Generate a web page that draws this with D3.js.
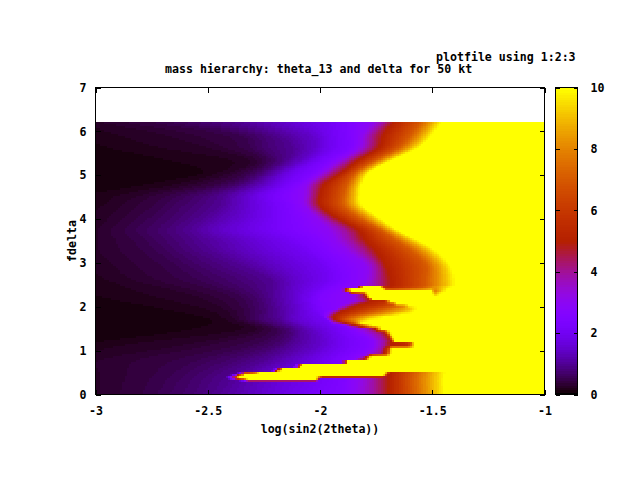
<!DOCTYPE html>
<html>
<head>
<meta charset="utf-8">
<script src="https://cdn.jsdelivr.net/npm/d3@7"></script>
<style>
html,body{margin:0;padding:0;background:#fff;}
text{font-family:"DejaVu Sans Mono","Liberation Mono",monospace;font-weight:bold;font-size:11.6px;fill:#000;}
</style>
</head>
<body>
<svg id="chart" width="640" height="480"></svg>
<script>
const xTicks = [-3,-2.5,-2,-1.5,-1];
const yTicks = [0,1,2,3,4,5,6,7];
const cbTicks = [0,2,4,6,8,10];
const titleText = "mass hierarchy: theta_13 and delta for 50 kt";
const keyText = "plotfile using 1:2:3";
const xLabelText = "log(sin2(2theta))";
const yLabelText = "fdelta";

// Smooth background: for each fdelta row, the log(sin2(2theta)) at which each level is reached
const bgLevels = [.1,.2,.3,.5,.75,1,1.5,2,2.5,3,4,5,7,10];
const bgDelta = [6.22,5.925,5.63,5.35,5.08,4.8,4.55,4.32,4.05,3.75,3.52,3.29,2.95,2.61,2.26,1.92,1.69,1.46,1.12,.78,.44,0];
const bgCross = [
 [-3.25,-3.116,-3,-2.714,-2.513,-2.357,-2.156,-1.973,-1.866,-1.768,-1.71,-1.674,-1.554,-1.455],
 [-3.205,-3,-2.714,-2.379,-2.277,-2.188,-2.036,-1.955,-1.866,-1.812,-1.768,-1.719,-1.598,-1.5],
 [-3.116,-2.804,-2.513,-2.321,-2.241,-2.125,-2.022,-1.955,-1.866,-1.83,-1.786,-1.741,-1.652,-1.563],
 [-2.982,-2.446,-2.313,-2.246,-2.192,-2.147,-2.076,-2.022,-1.955,-1.911,-1.871,-1.83,-1.754,-1.679],
 [-2.58,-2.469,-2.393,-2.313,-2.259,-2.223,-2.165,-2.112,-2.022,-1.987,-1.946,-1.897,-1.839,-1.777],
 [-2.893,-2.67,-2.58,-2.438,-2.357,-2.313,-2.232,-2.165,-2.103,-2.058,-2.022,-1.978,-1.879,-1.812],
 [-3.161,-2.938,-2.804,-2.647,-2.513,-2.424,-2.326,-2.246,-2.156,-2.071,-2.036,-2,-1.897,-1.821],
 [-3.25,-3,-2.893,-2.714,-2.58,-2.446,-2.335,-2.232,-2.134,-2.071,-2.036,-2,-1.897,-1.812],
 [-3.339,-3.094,-2.946,-2.781,-2.634,-2.513,-2.357,-2.232,-2.112,-2.022,-1.978,-1.933,-1.835,-1.741],
 [-3.429,-3.161,-3,-2.848,-2.692,-2.58,-2.424,-2.246,-2.089,-1.964,-1.888,-1.83,-1.732,-1.656],
 [-3.473,-3.183,-3,-2.804,-2.661,-2.536,-2.335,-2.156,-2.022,-1.933,-1.857,-1.799,-1.665,-1.567],
 [-3.429,-3.161,-3,-2.759,-2.616,-2.491,-2.29,-2.089,-1.978,-1.888,-1.812,-1.754,-1.598,-1.487],
 [-3.339,-3.116,-2.938,-2.67,-2.513,-2.357,-2.179,-2,-1.911,-1.799,-1.75,-1.71,-1.531,-1.42],
 [-3.25,-3,-2.848,-2.58,-2.379,-2.223,-2.112,-1.978,-1.888,-1.799,-1.741,-1.687,-1.531,-1.397],
 [-3.205,-2.848,-2.58,-2.379,-2.281,-2.214,-2.121,-2.045,-1.991,-1.857,-1.741,-1.687,-1.531,-1.397],
 [-2.848,-2.536,-2.424,-2.326,-2.25,-2.196,-2.107,-2.036,-1.978,-1.866,-1.741,-1.687,-1.531,-1.397],
 [-2.536,-2.438,-2.379,-2.313,-2.25,-2.179,-2.107,-1.991,-1.929,-1.866,-1.741,-1.687,-1.531,-1.397],
 [-2.848,-2.402,-2.29,-2.201,-2.143,-2.107,-2.022,-1.933,-1.866,-1.799,-1.741,-1.687,-1.531,-1.397],
 [-3.161,-3,-2.625,-2.321,-2.188,-2.134,-2,-1.911,-1.799,-1.732,-1.687,-1.643,-1.509,-1.397],
 [-3.339,-3.161,-3,-2.58,-2.371,-2.246,-2.103,-1.978,-1.888,-1.821,-1.741,-1.687,-1.531,-1.42],
 [-3.429,-3.205,-3,-2.692,-2.513,-2.379,-2.214,-2.022,-1.888,-1.83,-1.754,-1.692,-1.589,-1.442],
 [-3.473,-3.183,-3,-2.759,-2.58,-2.446,-2.259,-2.089,-1.911,-1.844,-1.754,-1.696,-1.589,-1.442]
];

// Sharp features that rise above the background, low fdelta: [log, value, log, value, ...]
const featDelta = [6.22,2.49,2.448,2.413,2.379,2.333,2.288,2.219,2.173,2.127,2.059,2.013,1.967,1.899,1.83,1.761,1.693,1.624,1.556,1.487,1.418,1.35,1.281,1.212,1.167,1.098,1.052,.938,.90,.885,.80,.765,.705,.68,.615,.585,.52,.50,.47,.40,.375,.32,.28,0];
const featStops = [
 [-3,0,-1,0],
 [-3,0,-1,0],
 [-1.84,0,-1.83,3,-1.808,10,-1.732,10,-1.714,5.5,-1.687,5.2,-1.545,7,-1.478,8.5,-1.411,10],
 [-1.92,0,-1.888,3.5,-1.875,5,-1.862,10,-1.719,10,-1.705,5.5,-1.679,5.2,-1.554,7,-1.487,8.5,-1.429,10],
 [-1.92,0,-1.902,4,-1.893,5.5,-1.879,10,-1.5,10,-1.491,7.5,-1.464,8.5,-1.433,10],
 [-1.911,0,-1.888,3,-1.87,5,-1.857,10,-1.5,10,-1.491,8,-1.451,10],
 [-1.902,0,-1.844,3,-1.821,4,-1.804,5,-1.79,10,-1.496,10,-1.487,8.8,-1.469,10],
 [-1.902,0,-1.853,3,-1.795,5,-1.781,10],
 [-1.902,0,-1.853,3,-1.781,5,-1.768,10],
 [-1.933,0,-1.857,3,-1.812,4,-1.777,5,-1.71,5.5,-1.687,10],
 [-1.942,0,-1.888,3,-1.853,4,-1.821,5,-1.71,6,-1.674,7,-1.656,10],
 [-1.94,0,-1.911,3,-1.844,5,-1.732,6,-1.665,7,-1.621,8,-1.607,10],
 [-1.95,0,-1.92,3,-1.866,5,-1.71,7,-1.598,9,-1.567,10],
 [-2.0,0,-1.978,2.5,-1.946,3,-1.902,5,-1.754,7,-1.621,9,-1.576,10],
 [-2.01,0,-1.991,2.5,-1.964,3,-1.929,5,-1.812,7,-1.687,9,-1.634,10],
 [-2.009,0,-1.973,3,-1.96,4,-1.937,5,-1.866,7,-1.777,9,-1.71,10],
 [-1.991,0,-1.964,3,-1.933,5,-1.888,7,-1.821,9,-1.777,10],
 [-1.964,0,-1.942,3,-1.888,5,-1.848,7,-1.812,10],
 [-1.942,0,-1.879,3,-1.83,5,-1.768,10],
 [-1.92,0,-1.866,2.5,-1.799,3.5,-1.754,5,-1.728,10],
 [-1.902,0,-1.848,2.5,-1.754,4,-1.714,5,-1.692,10],
 [-1.897,0,-1.821,2.5,-1.732,4,-1.701,5,-1.683,10],
 [-1.888,0,-1.799,2.5,-1.723,4,-1.692,5,-1.674,10],
 [-1.879,0,-1.777,2.5,-1.71,4,-1.683,5,-1.665,10],
 [-1.875,0,-1.777,2.5,-1.714,4,-1.687,5,-1.621,5.5,-1.594,7,-1.58,10],
 [-1.875,0,-1.777,2.5,-1.714,4,-1.683,5,-1.612,5.5,-1.589,8,-1.58,10],
 [-1.866,0,-1.777,2.5,-1.723,4,-1.696,6,-1.683,10],
 [-1.857,0,-1.821,2.5,-1.732,4,-1.701,6,-1.683,10],
 [-1.844,0,-1.705,5,-1.687,10],
 [-1.857,0,-1.812,3,-1.786,5,-1.772,10],
 [-1.888,0,-1.844,3,-1.799,5,-1.781,10],
 [-1.92,0,-1.902,3,-1.888,5,-1.875,10],
 [-1.92,0,-1.902,3,-1.888,5,-1.875,10],
 [-2.13,0,-2.098,3,-2.089,5,-2.076,10],
 [-2.14,0,-2.107,3,-2.098,5,-2.085,10],
 [-2.22,0,-2.188,3,-2.179,5,-2.165,10],
 [-2.235,0,-2.205,3,-2.196,5,-2.183,10],
 [-2.32,0,-2.29,3,-2.281,5,-2.27,10],
 [-2.39,0,-2.357,3,-2.348,5,-2.335,10,-1.71,10,-1.696,5,-1.69,0],
 [-2.43,0,-2.393,2.5,-2.375,5,-2.357,10,-1.719,10,-1.705,5,-1.695,0],
 [-2.44,0,-2.402,2.5,-2.384,5,-2.366,10,-2.018,10,-2.004,5,-1.987,0],
 [-2.42,0,-2.366,2.5,-2.339,5,-2.321,10,-2.018,10,-2.009,5,-1.991,0],
 [-3,0,-1,0],
 [-3,0,-1,0]
];

const svg = d3.select("#chart");
const x = d3.scaleLinear().domain([-3,-1]).range([95.5,544.5]);
const y = d3.scaleLinear().domain([0,7]).range([394.5,87.5]);
const cb = d3.scaleLinear().domain([0,10]).range([394.5,87.5]);

// gnuplot default palette: rgbformulae 7,5,15 on cbrange [0:10], limited colour table
const paletteSteps = 128;
function colour(v){
  const q = Math.min(Math.floor(v/10*paletteSteps),paletteSteps-1)/(paletteSteps-1);
  const c = d => Math.round(255*Math.max(0,Math.min(1,d)));
  return `rgb(${c(Math.sqrt(q))},${c(q*q*q)},${c(Math.sin(2*Math.PI*q))})`;
}

// Level positions between the background rows follow a smooth Hermite curve
function bgScaleAt(d){
  let i = 0;
  while(i<bgDelta.length-2 && d<bgDelta[i+1]) i++;
  const d0=bgDelta[i], d1=bgDelta[i+1], h=d1-d0, t=Math.max(0,Math.min(1,(d-d0)/h));
  let prev=-Infinity;
  const pos = bgLevels.map((_,k)=>{
    const p=r=>bgCross[r][k], slope=r=>{
      const a=Math.max(r-1,0), b=Math.min(r+1,bgDelta.length-1);
      return (p(b)-p(a))/(bgDelta[b]-bgDelta[a]);
    };
    const t2=t*t,t3=t2*t;
    let v=(2*t3-3*t2+1)*p(i)+(t3-2*t2+t)*h*slope(i)+(-2*t3+3*t2)*p(i+1)+(t3-t2)*h*slope(i+1);
    if(v<=prev) v=prev+1e-4;
    prev=v;
    return v;
  });
  return d3.scaleLinear().domain(pos).range(bgLevels).clamp(true);
}
const featScales = featStops.map(s=>{
  const xs=s.filter((_,i)=>i%2===0), vs=s.filter((_,i)=>i%2===1);
  return d3.scaleLinear().domain(xs).range(vs).clamp(true);
});
const featIndex = d3.scaleLinear().domain(featDelta).range(d3.range(featDelta.length)).clamp(true);
function featAt(lx,d){
  const f=featIndex(d), i=Math.min(Math.floor(f),featDelta.length-2), t=f-i;
  return featScales[i](lx)*(1-t)+featScales[i+1](lx)*t;
}

const nx = 200, ny = 136;
const cw = (x(-1)-x(-3))/nx, ch = (y(0)-y(bgDelta[0]))/ny;
const cells = [];
for(let j=0;j<ny;j++){
  const d = bgDelta[0]*(1-(j+.5)/ny);
  const bg = bgScaleAt(d);
  for(let i=0;i<nx;i++){
    const lx = -3+2*(i+.5)/nx;
    cells.push({lx,d,col:colour(Math.max(bg(lx),featAt(lx,d)))});
  }
}
svg.append("g").attr("shape-rendering","crispEdges").selectAll("rect").data(cells).join("rect")
  .attr("x",c=>x(c.lx)-cw/2).attr("y",c=>y(c.d)-ch/2)
  .attr("width",cw+.6).attr("height",ch+.6).attr("fill",c=>c.col);

// colour box
const cbSteps = d3.range(0,paletteSteps).map(i=>i/paletteSteps*10);
svg.append("g").attr("shape-rendering","crispEdges").selectAll("rect").data(cbSteps).join("rect")
  .attr("x",555.5).attr("width",22)
  .attr("y",v=>cb(v+10/paletteSteps)).attr("height",(y(0)-y(7))/paletteSteps+.6)
  .attr("fill",v=>colour(v+.01));

// axes
function styleAxis(g){
  g.attr("shape-rendering","crispEdges");
  g.select(".domain").remove();
  g.selectAll("line").attr("stroke","#000").attr("stroke-width",1);
  g.attr("font-family",null).attr("font-size",null);
}
const noLabel = ()=>"";
svg.append("g").attr("transform","translate(0,394.5)")
  .call(d3.axisBottom(x).tickValues(xTicks).tickFormat(String).tickSizeInner(-5).tickSizeOuter(0).tickPadding(0))
  .call(styleAxis).selectAll("text").attr("y",20).attr("dy",0);
svg.append("g").attr("transform","translate(0,87.5)")
  .call(d3.axisTop(x).tickValues(xTicks).tickFormat(noLabel).tickSizeInner(-5).tickSizeOuter(0)).call(styleAxis);
svg.append("g").attr("transform","translate(95.5,0)")
  .call(d3.axisLeft(y).tickValues(yTicks).tickFormat(String).tickSizeInner(-5).tickSizeOuter(0).tickPadding(9))
  .call(styleAxis);
svg.append("g").attr("transform","translate(544.5,0)")
  .call(d3.axisRight(y).tickValues(yTicks).tickFormat(noLabel).tickSizeInner(-5).tickSizeOuter(0)).call(styleAxis);
svg.append("g").attr("transform","translate(577.5,0)")
  .call(d3.axisRight(cb).tickValues(cbTicks).tickFormat(String).tickSizeInner(-4).tickSizeOuter(0).tickPadding(13))
  .call(styleAxis);
svg.append("g").attr("transform","translate(555.5,0)")
  .call(d3.axisLeft(cb).tickValues(cbTicks).tickFormat(noLabel).tickSizeInner(-4).tickSizeOuter(0)).call(styleAxis);

// borders
[[95.5,87.5,449,307],[555.5,87.5,22,307]].forEach(b=>{
  svg.append("rect").attr("x",b[0]).attr("y",b[1]).attr("width",b[2]).attr("height",b[3])
    .attr("fill","none").attr("stroke","#000").attr("stroke-width",1).attr("shape-rendering","crispEdges");
});

// texts
svg.append("text").attr("x",436).attr("y",61).text(keyText);
svg.append("text").attr("x",165).attr("y",73).text(titleText);
svg.append("text").attr("x",320).attr("y",433).attr("text-anchor","middle").text(xLabelText);
svg.append("text").attr("transform","translate(76,241) rotate(-90)").attr("text-anchor","middle").text(yLabelText);
</script>
</body>
</html>
